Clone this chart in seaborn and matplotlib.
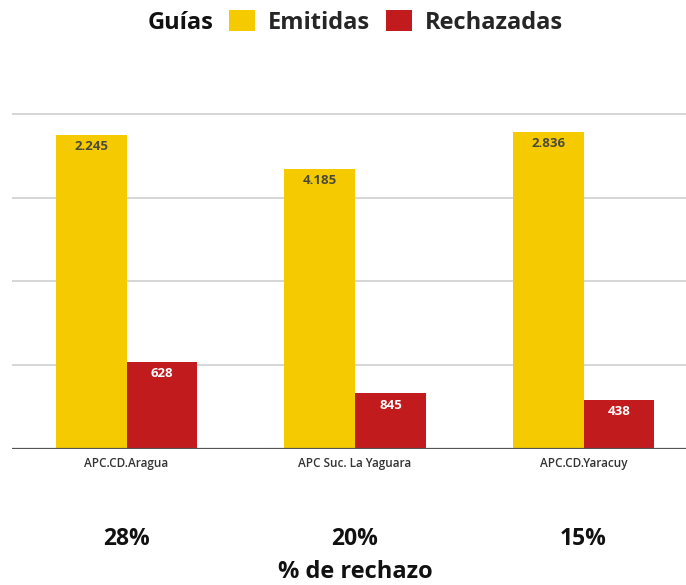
import numpy as np
import pandas as pd
import matplotlib
matplotlib.use('Agg')
import matplotlib.pyplot as plt
import matplotlib.transforms as mtransforms
import seaborn as sns

# Datos
sedes = ['APC.CD.Aragua', 'APC Suc. La Yaguara', 'APC.CD.Yaracuy']
emitidas = [2245, 4185, 2836]
rechazadas = [628, 845, 438]
# alturas de las barras (en divisiones de la rejilla), tal como se ven
emitidas_altura = [3.75, 3.345, 3.78]
rechazadas_altura = [1.036, 0.663, 0.583]
pct_rechazo = ['28%', '20%', '15%']

amarillo = '#F5CB00'
rojo = '#C21B1E'

sns.set_theme(style='white')
plt.rcParams['font.family'] = ['Open Sans', 'DejaVu Sans']

df = pd.DataFrame({
    'sede': sedes * 2,
    'tipo': ['Emitidas'] * 3 + ['Rechazadas'] * 3,
    'altura': emitidas_altura + rechazadas_altura,
    'valor': emitidas + rechazadas,
})

fig = plt.figure(figsize=(6.86, 5.85), dpi=100)
ax = fig.add_axes([12 / 686, 136 / 585, 674 / 686, (449 - 113.3) / 585])

sns.barplot(ax=ax, data=df, x='sede', y='altura', hue='tipo',
            palette=[amarillo, rojo], width=0.62, saturation=1,
            linewidth=0, legend=True)

ax.set_xlim(-0.501, 2.448)
ax.set_ylim(0, 4.005)
ax.set_yticks([0, 1, 2, 3, 4])
ax.set_yticklabels([])
ax.yaxis.grid(True, color='#d0d0d0', lw=1.2)
ax.set_axisbelow(True)
ax.axhline(0, color='#555555', lw=1.6, zorder=5)
for s in ax.spines.values():
    s.set_visible(False)
ax.set_xlabel('')
ax.set_ylabel('')
ax.tick_params(axis='both', length=0)
ax.tick_params(axis='x', pad=6)
ax.set_xticks(range(3))
ax.set_xticklabels(sedes, fontsize=8.5, color='#333333', fontweight='semibold')

# etiquetas de valor dentro de las barras
for cont, color_txt in zip(ax.containers, ['#4a4a3a', 'white']):
    vals = emitidas if color_txt != 'white' else rechazadas
    for bar, v in zip(cont, vals):
        txt = f'{v:,}'.replace(',', '.')
        ax.annotate(txt, (bar.get_x() + bar.get_width() / 2, bar.get_height()),
                    xytext=(0, -8.5), textcoords='offset points',
                    ha='center', va='center', fontsize=9.5,
                    fontweight='bold', color=color_txt)

# % de rechazo debajo de cada grupo
trans = mtransforms.blended_transform_factory(ax.transData, fig.transFigure)
for i, p in enumerate(pct_rechazo):
    ax.text(i, 1 - 539 / 585, p, transform=trans, ha='center', va='center',
            fontsize=16.5, fontweight='bold', color='#111111')
ax.text(1, 1 - 572 / 585, '% de rechazo', transform=trans, ha='center',
        va='center', fontsize=17, fontweight='bold', color='#111111')

# leyenda
handles, labels = ax.get_legend_handles_labels()
ax.get_legend().remove()
leg = fig.legend(handles, labels, loc='center left',
                 bbox_to_anchor=(229 / 686, 1 - 22.5 / 585), ncol=2, frameon=False,
                 borderpad=0, borderaxespad=0, handlelength=1.1, handleheight=0.95,
                 handletextpad=0.55, columnspacing=0.68,
                 prop={'size': 17, 'weight': 'bold'})
fig.text(148 / 686, 1 - 29 / 585, 'Guías', ha='left', va='baseline',
         fontsize=17, fontweight='bold', color='#111111')

fig.savefig('out.png', dpi=100)
